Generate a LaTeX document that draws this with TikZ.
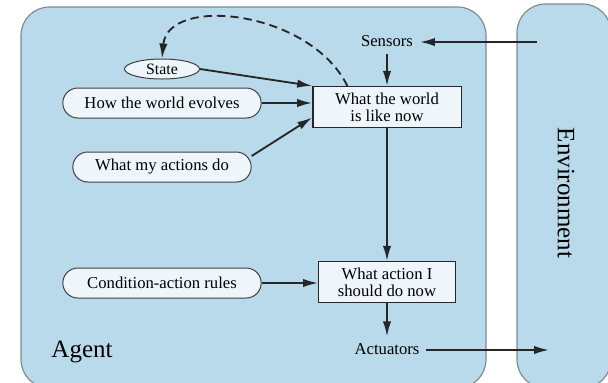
\documentclass[tikz,border=0pt]{standalone}
\usepackage{fontspec}
\setmainfont{Liberation Serif}
\usepackage{tikz}
\usetikzlibrary{shapes.geometric,arrows.meta}
\definecolor{agentblue}{RGB}{185,218,234}
\definecolor{paleblue}{RGB}{238,246,252}
\definecolor{rimgray}{RGB}{125,138,148}

\begin{document}
\begin{tikzpicture}[x=.6pt, y=-.6pt,
		region/.style={draw=rimgray, fill=agentblue, line width=.7pt, rounded corners=17pt},
		pill/.style={draw=black!75, fill=paleblue, line width=.6pt, rounded corners=9pt, minimum height=18pt, inner sep=0pt},
		oval/.style={ellipse, draw=black!75, fill=paleblue, line width=.6pt, minimum width=45pt, minimum height=12pt, inner sep=0pt, font=\fontsize{9.5}{9.5}\selectfont},
		box/.style={draw=black!85, fill=paleblue, line width=.8pt, minimum height=24.5pt, align=center, inner sep=0pt, font=\fontsize{10}{10}\selectfont},
		word/.style={inner sep=4pt},
		flow/.style={-{Latex[length=9pt,width=5pt]}, line width=1.1pt, black!85}]
				\clip (0,0) rectangle (608,382);
				\draw[region] (21,7) rectangle (486,388);
				\draw[region] (517,4) rectangle (611,388);
				\node at (82,352) {\fontsize{15}{18}\selectfont Agent};
				\node[rotate=-90] at (566,193) {\fontsize{15}{18}\selectfont Environment};
				\node[oval] (state) at (162,69) {State};
				\node[pill, minimum width=119pt] (evolves) at (162,103) {How the world evolves};
				\node[pill, minimum width=107pt] (actions) at (162,167) {What my actions do};
				\node[pill, minimum width=119pt] (rules) at (162,283) {Condition-action rules};
				\node[box, minimum width=89pt] (world) at (387,107) {What the world\\is like now};
				\node[box, minimum width=82pt] (act) at (387,282) {What action I\\should do now};
				\node[word] (sensors) at (387,41) {Sensors};
				\node[word] (actuators) at (387,349) {Actuators};
				\coordinate (percept) at (537,42);
				\coordinate (effect) at (549,350);
				\draw[flow] (percept) -- (percept -| sensors.east);
				\draw[flow] (sensors) -- (world);
				\draw[flow] (state.east) -- (world.north west);
				\draw[flow] (evolves.east) -- (evolves.east -| world.west);
				\draw[flow] (actions.7) -- (world.188);
				\draw[flow] (world) -- (act);
				\draw[flow] (rules.east) -- (rules.east -| act.west);
				\draw[flow] (act) -- (actuators);
				\draw[flow] (actuators.east |- effect) -- (effect);
				\draw[flow, dashed, dash pattern=on 5pt off 3pt] (world.152) .. controls (310,10) and (168,-5) .. (state.north);
			\end{tikzpicture}
\end{document}
